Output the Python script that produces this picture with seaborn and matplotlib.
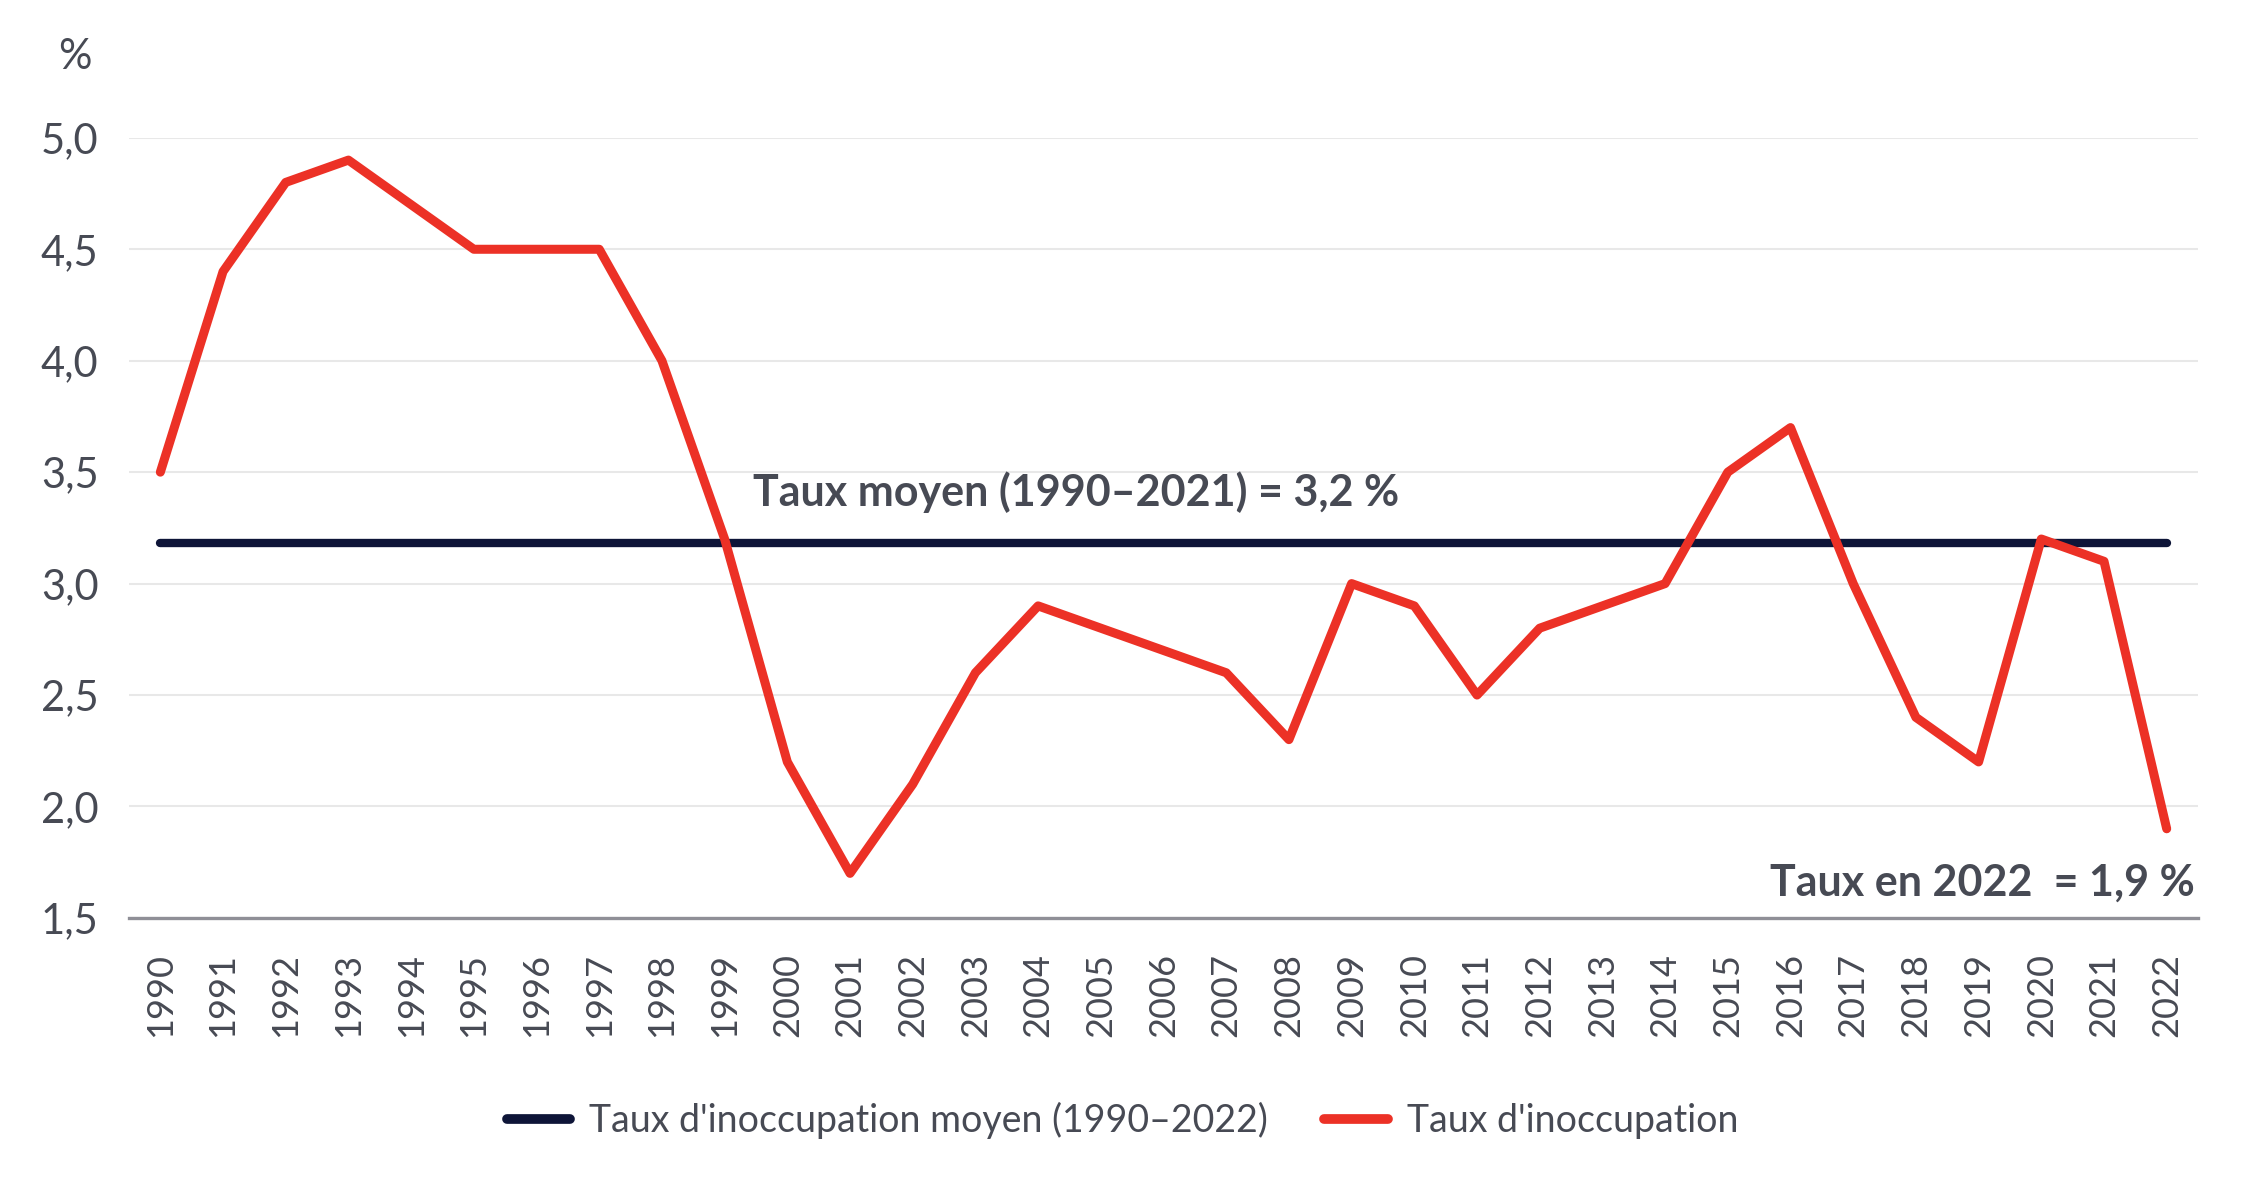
import pandas as pd
import matplotlib.pyplot as plt
import seaborn as sns

# data
years = list(range(1990, 2023))
vacancy = [3.5, 4.4, 4.8, 4.9, 4.7, 4.5, 4.5, 4.5, 4.0, 3.2,
           2.2, 1.7, 2.1, 2.6, 2.9, 2.8, 2.7, 2.6, 2.3, 3.0,
           2.9, 2.5, 2.8, 2.9, 3.0, 3.5, 3.7, 3.0, 2.4, 2.2,
           3.2, 3.1, 1.9]
mean_rate = [3.18] * len(years)
y_ticks = [1.5, 2.0, 2.5, 3.0, 3.5, 4.0, 4.5, 5.0]
y_tick_labels = ["1,5", "2,0", "2,5", "3,0", "3,5", "4,0", "4,5", "5,0"]

label_mean = "Taux d'inoccupation moyen (1990\u20132022)"
label_rate = "Taux d'inoccupation"
note_mean = "Taux moyen (1990\u20132021) = 3,2 %"
note_2022 = "Taux en 2022  = 1,9 %"

TEXT = "#474a54"
RED = "#ec3126"
NAVY = "#0e1538"

sns.set_theme(style="white")
plt.rcParams['font.family'] = ['Lato', 'DejaVu Sans']

df = pd.DataFrame({"year": years, "rate": vacancy, "mean": mean_rate})

fig = plt.figure(figsize=(22.63, 11.82), dpi=100)
ax = fig.add_axes([0.057, 0.2234, 0.9143, 0.66])

sns.lineplot(data=df, x="year", y="mean", ax=ax, color=NAVY, linewidth=6,
             solid_capstyle="round", label=label_mean, zorder=3)
sns.lineplot(data=df, x="year", y="rate", ax=ax, color=RED, linewidth=6.5,
             solid_capstyle="round", label=label_rate, zorder=4)

ax.set_xlim(1989.5, 2022.5)
ax.set_ylim(1.5, 5.0)
ax.set_xticks(years)
ax.set_xticklabels([str(y) for y in years], rotation=90, fontsize=26, color=TEXT)
ax.set_yticks(y_ticks)
ax.set_yticklabels(y_tick_labels, fontsize=30, color=TEXT)
ax.tick_params(axis="x", length=0, pad=25)
ax.tick_params(axis="y", length=0, pad=22)
ax.set_xlabel("")
ax.set_ylabel("")

ax.grid(axis="y", color="#e8e8e8", linewidth=1.5)
ax.set_axisbelow(True)
for side in ["left", "right", "top"]:
    ax.spines[side].set_visible(False)
ax.spines["bottom"].set_color("#8f8f97")
ax.spines["bottom"].set_linewidth(2.4)
ax.spines["bottom"].set_zorder(5)

ax.text(1999.45, 3.35, note_mean, fontsize=31, fontweight="bold", color=TEXT,
        ha="left", va="baseline")
ax.text(2022.45, 1.6, note_2022, fontsize=31, fontweight="bold", color=TEXT,
        ha="right", va="baseline")

fig.text(0.033, 0.952, "%", fontsize=30, color=TEXT, ha="center", va="center")

leg = ax.legend(loc="center", bbox_to_anchor=(0.496, 0.052), bbox_transform=fig.transFigure,
                ncol=2, frameon=False, fontsize=27, handlelength=1.7, handletextpad=0.5,
                columnspacing=1.5)
for t in leg.get_texts():
    t.set_color(TEXT)
for h in leg.legend_handles:
    h.set_linewidth(7)
    h.set_solid_capstyle("round")

fig.savefig("out.png", dpi=100)
